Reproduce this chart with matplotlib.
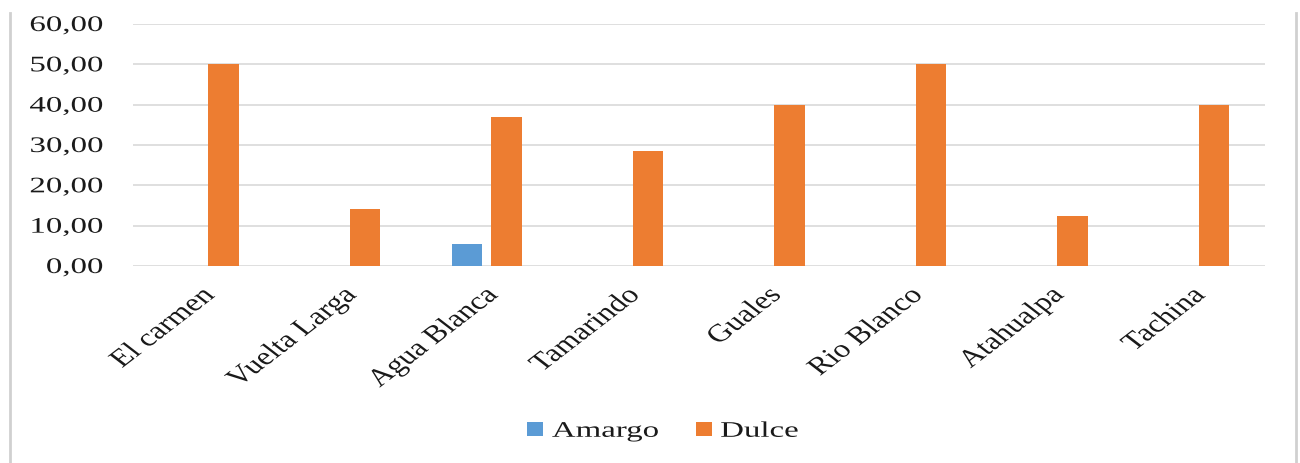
import matplotlib.pyplot as plt
from matplotlib.lines import Line2D
from matplotlib.patheffects import AbstractPathEffect
from matplotlib.transforms import Affine2D
import numpy as np

plt.rcParams['font.family'] = ['Liberation Serif', 'DejaVu Serif']

sitios = ["El carmen", "Vuelta Larga", "Agua Blanca", "Tamarindo",
          "Guales", "Rio Blanco", "Atahualpa", "Tachina"]
amargo = [0, 0, 5.4, 0, 0, 0, 0, 0]
dulce = [50.0, 14.1, 37.0, 28.5, 40.0, 50.0, 12.5, 40.0]


# the source picture is stretched sideways, so the text is too
class Stretch(AbstractPathEffect):
    def __init__(self, sx, anchor='right'):
        super().__init__()
        self.sx = sx
        self.anchor = anchor

    def draw_path(self, renderer, gc, tpath, affine, rgbFace=None):
        ext = tpath.transformed(affine).get_extents()
        x0 = ext.x1 if self.anchor == 'right' else ext.x0
        a = affine + Affine2D().translate(-x0, 0).scale(self.sx, 1).translate(x0, 0)
        renderer.draw_path(gc, tpath, a, rgbFace)


SX = 1.48
W, H = 1300, 464

fig = plt.figure(figsize=(13, 4.64), dpi=100)
ax = fig.add_axes([133/W, 1 - 267/H, (1265-133)/W, (267-25)/H])

x = np.arange(len(sitios))
w = 0.215
ax.bar(x - 0.14, amargo, w, color='#5b9bd5', label='Amargo', zorder=3)
ax.bar(x + 0.14, dulce, w, color='#ed7d31', label='Dulce', zorder=3)

ax.set_xlim(-0.5, len(sitios) - 0.5)
ax.set_ylim(0, 60)
ax.set_yticks(np.arange(0, 61, 10))
ylab = ax.set_yticklabels(["%d,00" % v for v in range(0, 61, 10)], fontsize=16, color='#1a1a1a')
ax.yaxis.grid(True, color='#d9d9d9', linewidth=1.2, zorder=0)
ax.set_axisbelow(True)
for s in ax.spines.values():
    s.set_visible(False)
ax.tick_params(axis='both', length=0)
ax.tick_params(axis='y', pad=21.6)

ax.set_xticks(x)
xlab = ax.set_xticklabels(sitios, rotation=45, ha='right', rotation_mode='anchor',
                          fontsize=18, color='#1a1a1a')
ax.tick_params(axis='x', pad=13)

for t in ylab:
    t.set_path_effects([Stretch(SX, 'right')])
for t in xlab:
    t.set_path_effects([Stretch(1.3, 'right')])

leg = fig.legend(loc='center left', bbox_to_anchor=(516/W, 1 - 433/H), ncol=2,
                 frameon=False, fontsize=16, borderpad=0,
                 handlelength=0.72, handleheight=0.55, handletextpad=0.4,
                 columnspacing=3.2)
for t in leg.get_texts():
    t.set_color('#1a1a1a')
    t.set_path_effects([Stretch(SX, 'left')])

# chart border (sides only visible)
for xp in (10, 1296):
    fig.lines.append(Line2D([xp/W, xp/W], [0, 1 - 14/H], transform=fig.transFigure,
                            color='#d0d0d0', linewidth=2))

plt.savefig("out.png", dpi=100)
